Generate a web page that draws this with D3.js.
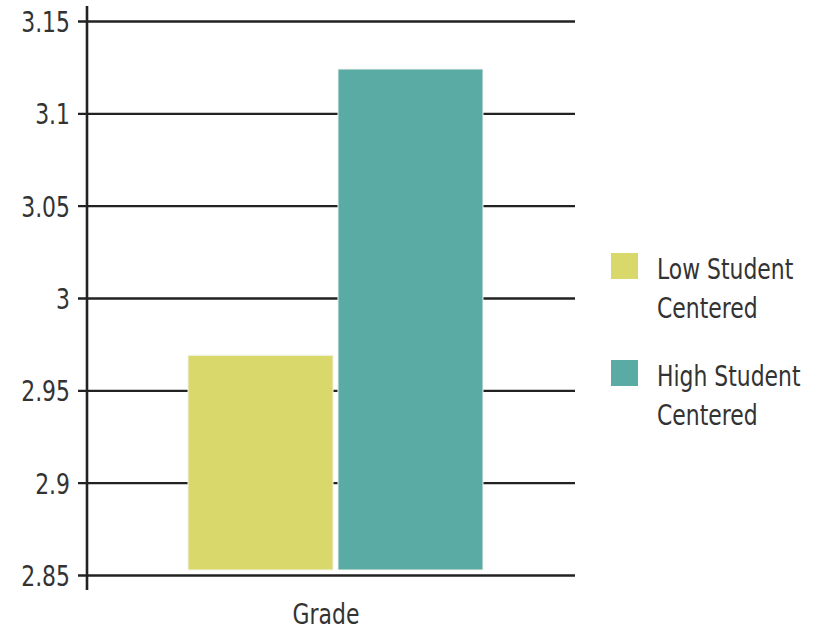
<!DOCTYPE html>
<html>
<head>
<meta charset="utf-8">
<script src="https://cdn.jsdelivr.net/npm/d3@7"></script>
<style>
  html, body { margin: 0; padding: 0; background: #fff; }
  svg text { font-family: "DejaVu Sans Condensed", "DejaVu Sans", sans-serif; font-stretch: condensed; fill: #333; }
</style>
</head>
<body>
<svg id="chart" width="813" height="630"></svg>
<script>
// Mean grade by teaching style
const categories = ["Grade"];
const seriesNames = ["Low Student Centered", "High Student Centered"];
const seriesValues = [2.969, 3.124];
const seriesColors = ["#d9d86b", "#5aaba3"];
const yTicks = [2.85, 2.9, 2.95, 3.0, 3.05, 3.1, 3.15];
const yTickLabels = ["2.85", "2.9", "2.95", "3", "3.05", "3.1", "3.15"];

const svg = d3.select("#chart");
const plot = { left: 87, right: 575, top: 21, bottom: 575 };

const y = d3.scaleLinear().domain([2.85, 3.15]).range([plot.bottom, plot.top]);
const x0 = d3.scaleBand().domain(categories).range([plot.left, plot.right]).paddingInner(0).paddingOuter(0);
const x1 = d3.scaleBand().domain(seriesNames).range([188 - plot.left, 483 - plot.left]).paddingInner(0.033);

// Horizontal squeeze that gives the face a narrow look
const squeeze = 0.84;

// Place a narrow text at (x, y)
function narrowText(parent, x, yPos, str, anchor) {
  return parent.append("text")
    .attr("transform", `translate(${x},${yPos}) scale(${squeeze},1)`)
    .attr("text-anchor", anchor || "start")
    .attr("font-size", 29)
    .text(str);
}

// Horizontal gridlines with short ticks to the left of the axis
const yAxis = d3.axisLeft(y)
  .tickValues(yTicks)
  .tickFormat((d, i) => yTickLabels[i])
  .tickSize(-(plot.right - plot.left))
  .tickPadding(17);

const gy = svg.append("g").attr("transform", `translate(${plot.left},0)`).call(yAxis);
gy.select(".domain").remove();
gy.selectAll(".tick line")
  .attr("x1", -9)
  .attr("stroke", "#222")
  .attr("stroke-width", 2.4);
gy.selectAll(".tick text")
  .attr("font-size", 29)
  .attr("font-family", null)
  .attr("dy", "0.36em")
  .attr("x", -17 / squeeze)
  .attr("transform", `scale(${squeeze},1)`);

// Bars
const barBase = y(2.85) - 5;
const g = svg.append("g");
categories.forEach(cat => {
  g.selectAll("rect.bar")
    .data(seriesValues.map((v, i) => ({ name: seriesNames[i], value: v, color: seriesColors[i] })))
    .enter().append("rect")
    .attr("class", "bar")
    .attr("x", d => x0(cat) + x1(d.name))
    .attr("width", x1.bandwidth())
    .attr("y", d => y(d.value))
    .attr("height", d => barBase - y(d.value))
    .attr("fill", d => d.color)
    .attr("stroke", "#f4f4ec")
    .attr("stroke-width", 1);
});

// Vertical axis line
svg.append("line")
  .attr("x1", plot.left).attr("x2", plot.left)
  .attr("y1", 6).attr("y2", 590)
  .attr("stroke", "#222").attr("stroke-width", 2.6);

// Category label
narrowText(svg, 326, 624, categories[0], "middle");

// Legend
const legendRows = [
  { lines: ["Low Student", "Centered"], top: 253 },
  { lines: ["High Student", "Centered"], top: 360 }
];
legendRows.forEach((row, i) => {
  svg.append("rect")
    .attr("x", 611).attr("y", row.top)
    .attr("width", 27).attr("height", 26)
    .attr("fill", seriesColors[i]);
  row.lines.forEach((t, j) => {
    narrowText(svg, 657, row.top + 26 + j * 39, t);
  });
});
</script>
</body>
</html>
